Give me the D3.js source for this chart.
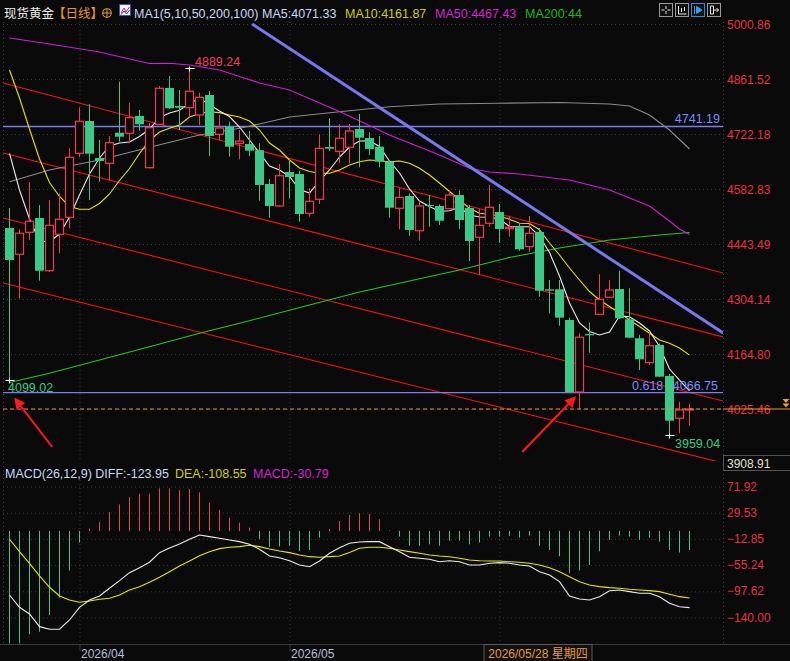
<!DOCTYPE html>
<html>
<head>
<meta charset="utf-8">
<script src="https://cdn.jsdelivr.net/npm/d3@7"></script>
<style>
  body { margin: 0; background: #0a0a0a; }
  svg { display: block; font-family: "Liberation Sans", "Noto Sans CJK SC", sans-serif; }
</style>
</head>
<body>
<svg id="chart"></svg>
<script>
// daily candles (spot gold)
const opens = [4484.0,4417.4,4473.1,4509.4,4375.8,4468.1,4511.1,4673.3,4755.1,4661.4,4647.9,4725.5,4723.9,4767.8,4636.8,4746.8,4838.7,4793.1,4788.8,4770.3,4821.0,4721.4,4740.7,4698.6,4696.8,4680.9,4595.5,4539.8,4625.9,4620.8,4521.3,4556.7,4689.2,4678.3,4688.5,4734.8,4712.0,4690.0,4652.0,4533.9,4565.1,4477.2,4542.3,4539.8,4532.9,4567.6,4534.7,4460.5,4495.9,4524.6,4482.3,4485.8,4436.7,4473.9,4328.7,4328.7,4250.9,4068.5,4215.5,4265.4,4308.5,4329.5,4252.7,4204.6,4142.8,4187.6,4109.1,4001.9,4024.7];
const highs = [4534.7,4480.7,4599.8,4542.3,4555.0,4571.9,4685.9,4789.8,4798.2,4707.0,4717.1,4854.7,4801.5,4783.0,4749.3,4843.8,4869.1,4833.6,4889.24,4826.8,4831.1,4770.3,4753.3,4732.3,4729.8,4698.6,4608.2,4646.2,4656.3,4629.2,4584.6,4721.4,4762.0,4746.8,4747.5,4772.8,4726.5,4717.1,4656.3,4584.6,4571.9,4553.2,4567.6,4544.1,4580.3,4578.5,4542.3,4532.2,4593.0,4544.8,4515.2,4494.2,4514.4,4484.0,4352.3,4352.3,4256.8,4217.2,4244.1,4366.7,4352.3,4375.8,4331.3,4212.9,4221.3,4191.9,4114.1,4044.0,4038.1];
const lows = [4099.02,4305.9,4453.6,4350.5,4372.6,4419.9,4483.3,4663.1,4555.0,4601.3,4605.6,4702.7,4698.6,4730.5,4634.8,4745.0,4785.5,4732.3,4766.0,4745.0,4666.4,4707.0,4664.7,4658.1,4666.4,4553.2,4510.1,4537.2,4559.3,4500.0,4512.7,4544.8,4679.1,4647.9,4647.9,4637.8,4669.0,4637.8,4510.1,4480.7,4464.5,4451.9,4487.3,4491.6,4532.2,4481.5,4400.4,4365.0,4487.3,4446.8,4462.0,4426.5,4424.0,4310.0,4267.9,4236.5,4067.3,4024.7,4168.1,4263.6,4306.7,4253.5,4205.3,4124.3,4136.9,4106.5,3959.04,3963.9,3983.2];
const closes = [4402.9,4470.6,4501.0,4375.8,4490.9,4506.1,4663.1,4754.4,4672.3,4653.8,4700.1,4715.3,4763.5,4746.8,4738.1,4838.0,4787.3,4788.8,4830.4,4815.2,4717.1,4737.4,4690.0,4704.4,4679.9,4593.0,4539.8,4616.5,4613.2,4519.5,4551.7,4685.9,4684.9,4711.3,4729.8,4712.8,4684.2,4652.0,4535.5,4561.8,4479.0,4539.8,4539.8,4502.5,4567.6,4504.3,4451.1,4490.9,4536.5,4481.5,4485.8,4430.1,4470.6,4325.2,4325.2,4256.8,4068.5,4207.1,4212.2,4303.4,4326.9,4255.3,4206.1,4151.4,4185.8,4107.3,3995.8,4022.9,4025.46];

// moving averages
const ma5 = [4673.3,4580.3,4506.8,4451.1,4449.3,4468.8,4511.9,4567.6,4620.8,4661.4,4691.8,4699.4,4701.9,4715.8,4734.8,4764.0,4775.4,4782.5,4799.4,4812.6,4796.9,4780.4,4766.5,4739.9,4707.0,4674.0,4641.1,4631.0,4614.5,4581.6,4572.7,4603.1,4631.0,4663.9,4689.2,4704.4,4705.2,4690.5,4653.8,4623.4,4582.8,4552.4,4538.5,4525.8,4527.9,4536.0,4517.0,4511.9,4511.1,4506.8,4487.8,4487.3,4487.3,4463.8,4422.0,4362.4,4294.0,4243.3,4221.8,4212.9,4220.5,4261.1,4259.3,4243.3,4223.1,4183.8,4126.8,4098.9,4071.33];
const ma10 = [4884.3,4813.4,4734.8,4658.8,4599.3,4563.8,4538.5,4531.4,4531.4,4546.1,4570.2,4604.4,4634.8,4672.8,4705.7,4727.2,4736.6,4745.0,4765.2,4774.1,4778.4,4776.4,4770.3,4765.2,4755.1,4732.3,4699.4,4681.6,4656.3,4636.0,4627.2,4622.6,4622.6,4631.0,4643.6,4652.0,4656.3,4654.5,4652.0,4653.8,4647.9,4635.3,4618.3,4598.0,4576.5,4555.0,4533.9,4521.3,4518.7,4514.4,4506.1,4495.9,4495.4,4479.7,4446.0,4415.6,4382.7,4352.3,4323.1,4301.6,4285.1,4268.7,4250.9,4234.5,4217.5,4200.3,4191.9,4180.0,4161.87];
const ma50Idx = [0,4,9,12,14,16,18,21,23,25,28,33,38,43,46,48,51,56,60,64,66,67,68];
const ma50Val = [4965.4,4950.2,4929.9,4912.2,4900.8,4901.3,4897.0,4884.3,4867.9,4851.4,4833.6,4779.2,4719.6,4669.0,4635.3,4625.9,4620.8,4605.6,4580.3,4539.8,4501.8,4481.5,4467.43];
const ma100Idx = [0,4,9,14,19,23,25,28,33,38,43,49,55,60,62,64,66,68];
const ma100Val = [4601.3,4631.0,4656.3,4688.5,4719.6,4736.6,4747.5,4765.2,4778.7,4791.3,4798.2,4800.0,4802.0,4798.2,4793.1,4770.3,4732.3,4684.2];
const ma200Idx = [0,4,9,14,19,23,30,35,40,45,50,55,60,65,68];
const ma200Val = [4092.6,4115.9,4149.6,4183.3,4217.2,4242.6,4288.9,4321.9,4349.8,4377.6,4409.3,4433.4,4453.6,4466.3,4472.6];

// MACD(26,12,9)
const diff = [-103.6,-123.5,-134.3,-154.8,-159.0,-159.0,-144.0,-123.5,-111.6,-105.2,-92.7,-80.4,-67.5,-59.4,-50.6,-35.1,-27.5,-21.0,-13.4,-6.5,-9.2,-11.8,-14.6,-17.3,-21.5,-29.6,-40.5,-43.2,-48.1,-55.0,-57.8,-48.5,-36.1,-27.0,-19.9,-17.8,-17.3,-17.3,-25.4,-33.5,-42.6,-44.2,-45.8,-49.7,-48.1,-49.7,-55.0,-55.0,-52.3,-51.3,-52.3,-55.0,-56.6,-65.9,-71.2,-82.0,-105.2,-110.0,-111.6,-106.3,-96.6,-95.5,-98.2,-100.8,-100.8,-106.3,-117.0,-122.5,-123.95];
const dea = [-13.4,-33.5,-52.3,-72.8,-91.1,-105.2,-111.6,-115.4,-113.3,-110.5,-108.9,-103.6,-95.5,-90.1,-83.0,-74.9,-65.9,-56.6,-48.5,-40.0,-33.5,-28.6,-26.4,-25.4,-23.1,-25.4,-29.1,-32.4,-35.1,-38.8,-41.6,-42.6,-41.6,-40.5,-34.8,-28.0,-26.4,-26.4,-28.0,-30.7,-33.5,-36.1,-38.8,-40.5,-41.6,-44.2,-46.9,-48.1,-48.5,-48.5,-49.7,-50.6,-52.3,-55.0,-59.4,-65.9,-73.9,-82.0,-87.4,-90.1,-91.7,-92.7,-94.3,-95.5,-96.6,-98.2,-102.4,-106.3,-108.55];
const macdHist = [-182,-182,-167,-163,-136,-108,-64,-19,4,14.6,30.7,43,55,60,60,69,69,66,68,62.6,45.8,34,21.6,13.4,5.4,-13,-26,-25,-24,-32.4,-30.7,-10.8,3.2,16,26,28.6,27.5,19,1,-9,-24,-24,-21.6,-24,-15.7,-15.7,-21.6,-19,-9,-9,-8,-10.8,-7.6,-24,-30.7,-41,-68,-64,-55,-33,-14.6,-7.6,-9,-14.6,-10.8,-17.3,-30.7,-35,-30.79];

// axis ticks and labels
const priceTicks = [5000.86,4861.52,4722.18,4582.83,4443.49,4304.14,4164.80,4025.46];
const priceBottom = 3908.91;
const macdTicks = [71.92,29.53,-12.85,-55.24,-97.62,-140.00];
const dateIdx = [7, 28];
const dateLabels = ["2026/04", "2026/05"];
const gridIdx = [7, 28, 49];
const cursorIdx = 53, cursorLabel = "2026/05/28 星期四";

// drawn annotations: [index, price]
const channelLines = [
  [[-0.63, 4851.4], [71.37, 4370.0]],
  [[-0.63, 4674.0], [71.37, 4207.9]],
  [[-0.63, 4509.4], [71.37, 4045.7]],
  [[-0.63, 4344.7], [71.37, 3888.6]]
];
const blueTrend = [[24.27, 5000.86], [71.37, 4218.0]];
const levelHigh = 4741.19, level618 = 4066.75, lastPrice = 4025.46;
const arrows = [
  [[4.27, 3929.2], [0.6, 4050.0]],
  [[51.27, 3916.5], [56.5, 4054.0]]
];

const W = 790, H = 661;
const BG = "#0a0a0a", RED = "#f23c50", GREEN = "#3cc887", AXISRED = "#e8323f";

const svg = d3.select("#chart").attr("width", W).attr("height", H);
svg.append("rect").attr("width", W).attr("height", H).attr("fill", BG);

const x = d3.scaleLinear().domain([0, 68]).range([9.5, 689.5]);
const y = d3.scaleLinear().domain([priceBottom, 5000.86]).range([455, 24]);
const ym = d3.scaleLinear().domain([-140, 71.92]).range([617.5, 486.5]);

const defs = svg.append("defs");
defs.append("clipPath").attr("id", "clipMain").append("rect")
  .attr("x", 3).attr("y", 22).attr("width", 720).attr("height", 439);
defs.append("clipPath").attr("id", "clipMacd").append("rect")
  .attr("x", 3).attr("y", 480).attr("width", 720).attr("height", 164);
defs.append("marker").attr("id", "arrowHead")
  .attr("viewBox", "0 0 10 10").attr("refX", 8).attr("refY", 5)
  .attr("markerWidth", 6).attr("markerHeight", 5.5).attr("orient", "auto")
  .attr("markerUnits", "strokeWidth")
  .append("path").attr("d", "M0,0 L10,5 L0,10 z").attr("fill", "#ff1a1a");

// grids
function hGrid(scale, ticks) {
  const g = svg.append("g").attr("transform", "translate(3,0)")
    .call(d3.axisRight(scale).tickValues(ticks).tickSize(720).tickFormat(""));
  g.select(".domain").remove();
  g.selectAll("line").attr("stroke", "#3a3a3a").attr("stroke-dasharray", "1,3");
}
hGrid(y, priceTicks);
hGrid(ym, macdTicks);

function vGrid(top, h) {
  const g = svg.append("g").attr("transform", `translate(0,${top})`)
    .call(d3.axisBottom(x).tickValues(gridIdx).tickSize(h).tickFormat(""));
  g.select(".domain").remove();
  g.selectAll("line").attr("stroke", "#3a3a3a").attr("stroke-dasharray", "1,3");
}
vGrid(22, 439);
vGrid(480, 164);

[3.5, 723.5].forEach(px => {
  svg.append("line").attr("x1", px).attr("x2", px).attr("y1", 22).attr("y2", 644)
    .attr("stroke", "#444").attr("stroke-dasharray", "1,3");
});

// main panel
const main = svg.append("g").attr("clip-path", "url(#clipMain)");
const pLine = d3.line().x(d => x(d[0])).y(d => y(d[1]));

channelLines.forEach(l => {
  main.append("path").attr("d", pLine(l)).attr("fill", "none")
    .attr("stroke", "#ff1010").attr("stroke-width", 1.1);
});

main.append("line").attr("x1", 3).attr("x2", 723)
  .attr("y1", y(levelHigh)).attr("y2", y(levelHigh))
  .attr("stroke", "#7b7bf2").attr("stroke-width", 1.3);
main.append("line").attr("x1", 3).attr("x2", 723)
  .attr("y1", y(level618)).attr("y2", y(level618))
  .attr("stroke", "#7b7bf2").attr("stroke-width", 1.3);

const maDefs = [
  { pts: ma200Idx.map((d, i) => [d, ma200Val[i]]), color: "#22c822" },
  { pts: ma100Idx.map((d, i) => [d, ma100Val[i]]), color: "#8a8a8a" },
  { pts: ma50Idx.map((d, i) => [d, ma50Val[i]]), color: "#d21cd2" },
  { pts: ma10.map((v, i) => [i, v]), color: "#e6e600" },
  { pts: ma5.map((v, i) => [i, v]), color: "#ececec" }
];
maDefs.forEach(m => {
  main.append("path").attr("d", pLine(m.pts)).attr("fill", "none")
    .attr("stroke", m.color).attr("stroke-width", 1.1);
});

// candles
const candles = opens.map((o, i) => ({ i, o, h: highs[i], l: lows[i], c: closes[i] }));
const isUp = d => d.c >= d.o;
const cg = main.append("g");
cg.selectAll("line.wick").data(candles).enter().append("line")
  .attr("class", "wick")
  .attr("x1", d => x(d.i)).attr("x2", d => x(d.i))
  .attr("y1", d => y(d.h)).attr("y2", d => y(d.l))
  .attr("stroke", d => isUp(d) ? RED : GREEN);
cg.selectAll("rect.body").data(candles).enter().append("rect")
  .attr("class", "body")
  .attr("x", d => isUp(d) ? x(d.i) - 4 : x(d.i) - 4.5)
  .attr("width", d => isUp(d) ? 8 : 9)
  .attr("y", d => y(Math.max(d.o, d.c)))
  .attr("height", d => Math.max(1, Math.abs(y(d.o) - y(d.c))))
  .attr("fill", d => isUp(d) ? BG : GREEN)
  .attr("stroke", d => isUp(d) ? RED : "none")
  .attr("stroke-width", 1.2);

// blue falling trendline
main.append("path").attr("d", pLine(blueTrend)).attr("fill", "none")
  .attr("stroke", "#7878f0").attr("stroke-width", 3);

// current price line
svg.append("line").attr("x1", 3).attr("x2", 723)
  .attr("y1", y(lastPrice)).attr("y2", y(lastPrice))
  .attr("stroke", "#f0932a").attr("stroke-width", 1.2).attr("stroke-dasharray", "4,3");

// extremes
const marks = [
  { i: 0, v: lows[0], label: "4099.02", color: GREEN, dx: -1.5, dy: 12 },
  { i: 18, v: highs[18], label: "4889.24", color: "#f0405a", dx: 5.5, dy: -2 },
  { i: 66, v: lows[66], label: "3959.04", color: GREEN, dx: 5.5, dy: 13 }
];
marks.forEach(m => {
  const px = x(m.i), py = Math.round(y(m.v)) + 0.5;
  svg.append("path").attr("d", `M${px - 4},${py}H${px + 5}M${px},${py - 2}V${py + 3}`)
    .attr("stroke", "#fff").attr("stroke-width", 1.2);
  svg.append("text").attr("x", px + m.dx).attr("y", y(m.v) + m.dy)
    .attr("fill", m.color).attr("font-size", 12.5).text(m.label);
});

svg.append("text").attr("x", 720).attr("y", y(levelHigh) - 3).attr("text-anchor", "end")
  .attr("fill", "#7b8aff").attr("font-size", 12.5).text(levelHigh.toFixed(2));
svg.append("text").attr("x", 718).attr("y", y(level618) - 3).attr("text-anchor", "end")
  .attr("fill", "#7b8aff").attr("font-size", 12.5).text(level618.toFixed(2));
svg.append("text").attr("x", 632).attr("y", y(level618) - 3)
  .attr("fill", "#7b8aff").attr("font-size", 12.5).text("0.618");

// red arrows
arrows.forEach(a => {
  svg.append("line")
    .attr("x1", x(a[0][0])).attr("y1", y(a[0][1]))
    .attr("x2", x(a[1][0])).attr("y2", y(a[1][1]))
    .attr("stroke", "#ff1a1a").attr("stroke-width", 2)
    .attr("marker-end", "url(#arrowHead)");
});

// right price axis
const ax = svg.append("g").attr("transform", "translate(723,0)")
  .call(d3.axisRight(y).tickValues(priceTicks).tickSize(0).tickPadding(4)
    .tickFormat(d3.format(".2f")));
ax.select(".domain").remove();
ax.selectAll("text").attr("fill", AXISRED).attr("font-size", 12).attr("dy", "0.36em")
  .attr("font-family", "Liberation Sans, sans-serif");

svg.append("line").attr("x1", 723).attr("x2", 790)
  .attr("y1", y(lastPrice)).attr("y2", y(lastPrice))
  .attr("stroke", "#f0932a").attr("stroke-width", 1.2);
[399, 403.5].forEach(ty => {
  svg.append("path").attr("d", `M782.5,${ty}H789.5L786,${ty + 4}Z`).attr("fill", "#f0a030");
});

svg.append("rect").attr("x", 723.5).attr("y", 455.5).attr("width", 70).attr("height", 15)
  .attr("fill", BG).attr("stroke", "#555");
svg.append("text").attr("x", 727).attr("y", 467.5).attr("fill", "#e6e0d2")
  .attr("font-size", 12).text(priceBottom.toFixed(2));

// MACD panel
const macdG = svg.append("g").attr("clip-path", "url(#clipMacd)");
macdG.selectAll("line.hist").data(macdHist).enter().append("line")
  .attr("class", "hist")
  .attr("x1", (d, i) => x(i)).attr("x2", (d, i) => x(i))
  .attr("y1", ym(0)).attr("y2", d => ym(d))
  .attr("stroke", d => d >= 0 ? RED : GREEN);
const mLine = d3.line().x((d, i) => x(i)).y(d => ym(d));
macdG.append("path").attr("d", mLine(dea)).attr("fill", "none")
  .attr("stroke", "#e6e600").attr("stroke-width", 1.1);
macdG.append("path").attr("d", mLine(diff)).attr("fill", "none")
  .attr("stroke", "#ececec").attr("stroke-width", 1.1);

const axm = svg.append("g").attr("transform", "translate(723,0)")
  .call(d3.axisRight(ym).tickValues(macdTicks).tickSize(0).tickPadding(4)
    .tickFormat(d3.format(".2f")));
axm.select(".domain").remove();
axm.selectAll("text").attr("fill", AXISRED).attr("font-size", 12).attr("dy", "0.3em")
  .attr("font-family", "Liberation Sans, sans-serif");

// date axis
svg.append("line").attr("x1", 0).attr("x2", W).attr("y1", 644.5).attr("y2", 644.5)
  .attr("stroke", "#3c3c3c");
const axd = svg.append("g").attr("transform", "translate(0,644.5)")
  .call(d3.axisBottom(x).tickValues(dateIdx).tickSize(6).tickPadding(0)
    .tickFormat((d, i) => dateLabels[i]));
axd.select(".domain").remove();
axd.selectAll("line").attr("stroke", "#3c3c3c");
axd.selectAll("text").attr("fill", "#b4c0dc").attr("font-size", 12)
  .attr("text-anchor", "start").attr("dx", 1).attr("y", 13).attr("dy", 0);

const cx = x(cursorIdx);
svg.append("rect").attr("x", cx - 55.5).attr("y", 644.5).attr("width", 108).attr("height", 17)
  .attr("fill", "#111").attr("stroke", "#5a5a5a");
svg.append("text").attr("x", cx - 1.5).attr("y", 657.5).attr("text-anchor", "middle")
  .attr("fill", "#e89a3c").attr("font-size", 12).text(cursorLabel);

// header legend
const header = [
  { x: 4, t: "现货黄金", c: "#ececec" },
  { x: 53, t: "【日线】", c: "#e8982c" },
  { x: 134, t: "MA1(5,10,50,200,100)", c: "#c8d8f8" },
  { x: 262, t: "MA5:" + ma5[ma5.length - 1].toFixed(2), c: "#c8d8f8" },
  { x: 345, t: "MA10:" + ma10[ma10.length - 1].toFixed(2), c: "#d0d000" },
  { x: 435, t: "MA50:" + ma50Val[ma50Val.length - 1].toFixed(2), c: "#d424d4" },
  { x: 525, t: "MA200:44", c: "#22b422" }
];
header.forEach(h => {
  svg.append("text").attr("x", h.x).attr("y", 17.5).attr("fill", h.c)
    .attr("font-size", 12.5).text(h.t);
});
svg.append("circle").attr("cx", 107).attr("cy", 13).attr("r", 4.3)
  .attr("fill", "none").attr("stroke", "#e8982c").attr("stroke-width", 1.1);
svg.append("path").attr("d", "M102.7,13H111.3M107,8.7V17.3").attr("stroke", "#e8982c");
svg.append("rect").attr("x", 119.5).attr("y", 4.5).attr("width", 11).attr("height", 11)
  .attr("fill", "#f4f4ff").attr("stroke", "#3050d0");
svg.append("path").attr("d", "M121,13L124,8L126,12L129.5,7").attr("fill", "none").attr("stroke", "#e02020");
svg.append("path").attr("d", "M121,14.5L124,11L126.5,14L129.5,10").attr("fill", "none").attr("stroke", "#2040e0");

// toolbar icons
const icons = [659.5, 675.5, 691.5, 707.5];
icons.forEach((ix, k) => {
  const col = k === 2 ? "#2f8be0" : "#9a9a9a";
  svg.append("rect").attr("x", ix).attr("y", 3.5).attr("width", 13).attr("height", 13)
    .attr("fill", "#111").attr("stroke", col);
  const g = svg.append("g").attr("stroke", k === 2 ? "#3c9cf0" : "#e8e8e8").attr("fill", "none");
  if (k === 0) g.append("path").attr("d", `M${ix + 6.5},6V9M${ix + 6.5},11V14M${ix + 2},10H${ix + 5}M${ix + 8},10H${ix + 11}`);
  if (k === 1) g.append("path").attr("d", `M${ix + 3},6V14H${ix + 11}M${ix + 6},8V12M${ix + 9},7V11`);
  if (k === 2) {
    g.append("path").attr("d", `M${ix + 3},6V14`);
    g.append("path").attr("d", `M${ix + 5},6.5L${ix + 10.5},10L${ix + 5},13.5Z`).attr("fill", "#3c9cf0");
  }
  if (k === 3) g.append("path").attr("d", `M${ix + 3},6V14H${ix + 6}V6ZM${ix + 6},10H${ix + 11}M${ix + 9},8L${ix + 11},10L${ix + 9},12`);
});

// MACD legend
const macdHeader = [
  { x: 5, t: "MACD(26,12,9) DIFF:" + diff[diff.length - 1].toFixed(2), c: "#c8d8f8" },
  { x: 175, t: "DEA:" + dea[dea.length - 1].toFixed(2), c: "#d0d000" },
  { x: 253, t: "MACD:" + macdHist[macdHist.length - 1].toFixed(2), c: "#d424d4" }
];
macdHeader.forEach(h => {
  svg.append("text").attr("x", h.x).attr("y", 478).attr("fill", h.c)
    .attr("font-size", 12.5).text(h.t);
});
</script>
</body>
</html>
